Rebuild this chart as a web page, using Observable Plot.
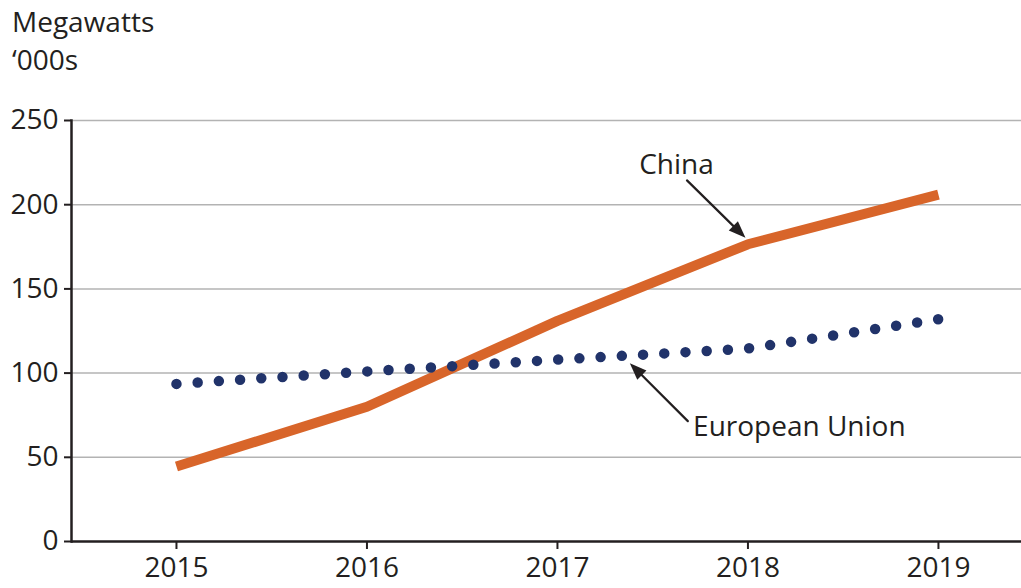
<!DOCTYPE html>
<html><head><meta charset="utf-8">
<script src="https://cdn.jsdelivr.net/npm/d3@7"></script>
<script src="https://cdn.jsdelivr.net/npm/@observablehq/plot@0.6"></script>
<style>
html,body{margin:0;padding:0;background:#fff;}
body{width:1021px;height:588px;position:relative;overflow:hidden;font-family:"Open Sans",sans-serif;color:#231f20;}
#title{position:absolute;left:12px;top:2px;font-size:28px;line-height:38px;white-space:nowrap;}
#chart{position:absolute;left:0;top:90px;}
</style></head><body>
<div id="title">Megawatts<br>‘000s</div>
<div id="chart"></div>
<script>
// Data
const years = [2015, 2016, 2017, 2018, 2019];
const chinaValues = [44.5, 80, 131, 176.5, 206];
const euValues = [93.6, 101, 108, 114.6, 132];
const yTicks = [0, 50, 100, 150, 200, 250];

// Annotations (data units)
const labelText = ["China", "European Union"];
const labelX = [2017.625, 2017.712];
const labelY = [218.5, 62.9];
const labelAnchor = ["middle", "start"];
const arrowTipX = [2017.987, 2017.380];
const arrowTipY = [180.3, 105.9];
const arrowAngle = [134.5, -45];
const arrowLength = [82, 82];

const chinaRows = years.map((year, i) => ({year, value: chinaValues[i]}));
const euRows = years.map((year, i) => ({year, value: euValues[i]}));
const labels = labelText.map((text, i) => ({text, x: labelX[i], y: labelY[i], anchor: labelAnchor[i]}));
const arrows = arrowTipX.map((x, i) => ({x, y: arrowTipY[i], rotate: arrowAngle[i], length: arrowLength[i]}));

const ink = "#231f20";
const headLen = 17, headHalf = 6.5;
const shaftShape = {
  draw(ctx, l) {
    ctx.moveTo(0, 0);
    ctx.lineTo(0, -l + headLen - 2);
  }
};
const headShape = {
  draw(ctx, l) {
    ctx.moveTo(0, -l);
    ctx.lineTo(-headHalf, -l + headLen);
    ctx.lineTo(headHalf, -l + headLen);
    ctx.closePath();
  }
};

const chart = Plot.plot({
  width: 1021,
  height: 498,
  marginLeft: 71,
  marginRight: 0,
  marginTop: 30,
  marginBottom: 47,
  style: {fontFamily: "'Open Sans', sans-serif", fontSize: "28px", color: ink, background: "white", overflow: "visible"},
  x: {domain: [2014.449, 2019.436]},
  y: {domain: [0, 250]},
  length: {type: "identity"},
  marks: [
    Plot.ruleY(yTicks.filter(d => d > 0), {stroke: "#b3b3b3", strokeWidth: 1.5}),
    Plot.axisY({ticks: yTicks, tickSize: 7, tickPadding: 6, label: null, stroke: ink, strokeWidth: 2, fill: ink}),
    Plot.axisX({ticks: years, tickSize: 8, tickPadding: 8, label: null, tickFormat: "d", stroke: ink, strokeWidth: 2, fill: ink}),
    Plot.ruleY([0], {stroke: ink, strokeWidth: 2.5}),
    Plot.frame({anchor: "left", stroke: ink, strokeWidth: 2.5}),
    Plot.line(chinaRows, {x: "year", y: "value", stroke: "#d8652a", strokeWidth: 10, strokeLinecap: "butt", strokeLinejoin: "miter"}),
    Plot.line(euRows, {x: "year", y: "value", stroke: "#21336a", strokeWidth: 10.5, strokeDasharray: "0,21.25", strokeLinecap: "round"}),
    Plot.text(labels, {x: "x", y: "y", text: "text", textAnchor: "start", lineAnchor: "bottom", fill: ink, fontSize: 28, filter: d => d.anchor === "start"}),
    Plot.text(labels, {x: "x", y: "y", text: "text", textAnchor: "middle", lineAnchor: "bottom", fill: ink, fontSize: 28, filter: d => d.anchor === "middle"}),
    Plot.vector(arrows, {x: "x", y: "y", rotate: "rotate", length: "length", anchor: "end", shape: shaftShape, stroke: ink, strokeWidth: 2.2}),
    Plot.vector(arrows, {x: "x", y: "y", rotate: "rotate", length: "length", anchor: "end", shape: headShape, stroke: "none", fill: ink})
  ]
});
document.getElementById("chart").appendChild(chart);
</script>
</body></html>
